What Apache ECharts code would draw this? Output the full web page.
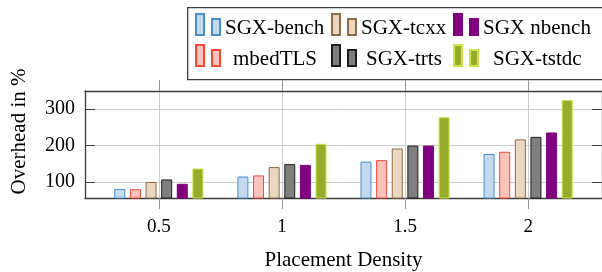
<!DOCTYPE html>
<html>
<head>
<meta charset="utf-8">
<script src="https://cdn.jsdelivr.net/npm/echarts@6/dist/echarts.min.js"></script>
<style>
  html, body { margin: 0; padding: 0; background: #fff; }
  #chart { width: 602px; height: 272px; }
</style>
</head>
<body>
<div id="chart"></div>
<script>
// placement densities on the x axis
const densities = [0.5, 1, 1.5, 2];
const yTicks = [100, 200, 300];

const names = ['SGX-bench', 'mbedTLS', 'SGX-tcxx', 'SGX-trts', 'SGX nbench', 'SGX-tstdc'];
const sgxBench = [81, 115, 156, 177];
const mbedTLS = [80, 118, 160, 183];
const sgxTcxx = [100, 141, 192, 217];
const sgxTrts = [107, 149, 200, 224];
const sgxNbench = [95, 147, 200, 236];
const sgxTstdc = [137, 205, 278, 325];
const values = [sgxBench, mbedTLS, sgxTcxx, sgxTrts, sgxNbench, sgxTstdc];

const fills = ['#c2d9ee', '#fcc2bc', '#ead7c0', '#7f7f7f', '#800080', '#98ac2c'];
const borders = ['#4a8fcd', '#f4483a', '#8f6a48', '#1e1e1e', '#800080', '#cde44a'];

const FONT = '"Liberation Serif", "DejaVu Serif", serif';
const AXIS = '#3c3c3c';
const GRID = '#cccccc';

// legend slots: [left, top, extra text padding]
const legendPos = {
  'SGX-bench': [195, 12, 0],
  'SGX-tcxx': [331, 12, 0],
  'SGX nbench': [453, 12, 0],
  'mbedTLS': [195, 43, 8],
  'SGX-trts': [331, 43, 5],
  'SGX-tstdc': [453, 43, 10]
};

const chart = echarts.init(document.getElementById('chart'));

chart.setOption({
  animation: false,
  grid: { left: 85, top: 91, height: 107, width: 520 },
  graphic: [{
    type: 'rect', left: 187, top: 7, z: 0,
    shape: { width: 430, height: 72 },
    style: { fill: '#fff', stroke: AXIS, lineWidth: 1.3 }
  }],
  legend: names.map(n => ({
    data: [n],
    left: legendPos[n][0],
    top: legendPos[n][1],
    padding: 0,
    itemWidth: 24,
    itemHeight: 21,
    icon: 'path://M0,0h8v21h-8z M16,5h8v16h-8z',
    selectedMode: false,
    formatter: name => '{s| }\n{t|' + name + '}',
    textStyle: {
      fontFamily: FONT, fontSize: 21, color: '#000',
      rich: {
        s: { fontSize: 4, lineHeight: 8 },
        t: { fontFamily: FONT, fontSize: 21, lineHeight: 21, color: '#000', padding: [0, 0, 0, legendPos[n][2]] }
      }
    }
  })),
  xAxis: [{
    type: 'value', min: 0.2, max: 2.3,
    name: 'Placement Density', nameLocation: 'middle', nameGap: 52,
    nameTextStyle: { fontFamily: FONT, fontSize: 21, color: '#000' },
    axisLine: { lineStyle: { color: AXIS, width: 1.3 } },
    axisTick: { show: true, customValues: densities, length: 11, lineStyle: { color: '#999' } },
    axisLabel: { customValues: densities, fontFamily: FONT, fontSize: 19, color: '#000', margin: 20 },
    splitLine: { show: true, lineStyle: { color: GRID } }
  }, {
    type: 'value', min: 0.2, max: 2.3, position: 'top',
    axisLine: { show: true, lineStyle: { color: AXIS, width: 1.3 } },
    axisTick: { show: true, customValues: densities, length: 11, lineStyle: { color: '#999' } },
    axisLabel: { show: false },
    splitLine: { show: false }
  }],
  yAxis: [{
    type: 'value', min: 56, max: 350,
    name: 'Overhead in %', nameLocation: 'middle', nameGap: 55,
    nameTextStyle: { fontFamily: FONT, fontSize: 21, color: '#000', padding: [0, 0, 0, 26] },
    axisLine: { show: true, lineStyle: { color: AXIS, width: 1.3 } },
    axisTick: { show: true, inside: true, customValues: yTicks, length: 10, lineStyle: { color: AXIS } },
    axisLabel: { customValues: yTicks, fontFamily: FONT, fontSize: 20, color: '#000', margin: 10 },
    splitLine: { show: true, lineStyle: { color: GRID } }
  }, {
    type: 'value', min: 56, max: 350, position: 'right',
    axisLine: { show: true, lineStyle: { color: AXIS, width: 1.3 } },
    axisTick: { show: true, inside: true, customValues: yTicks, length: 10, lineStyle: { color: AXIS } },
    axisLabel: { show: false },
    splitLine: { show: false }
  }],
  series: names.map((n, i) => ({
    name: n,
    type: 'bar',
    xAxisIndex: 0,
    yAxisIndex: 0,
    barWidth: 11,
    barGap: '42%',
    itemStyle: { color: fills[i], borderColor: borders[i], borderWidth: 1 },
    data: densities.map((d, j) => [d, values[i][j]])
  }))
});
</script>
</body>
</html>
